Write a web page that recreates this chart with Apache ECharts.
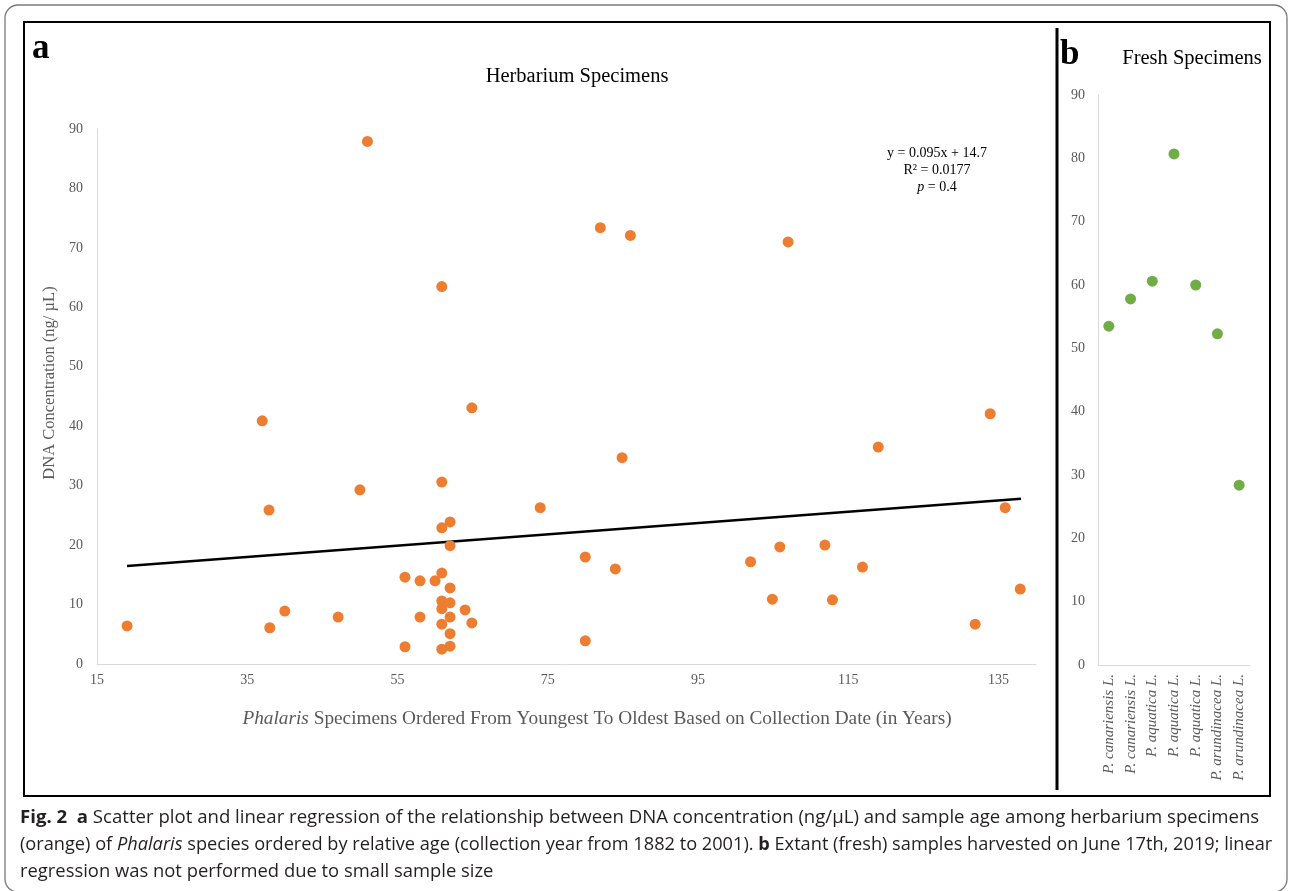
<!DOCTYPE html>
<html>
<head>
<meta charset="utf-8">
<script src="https://cdn.jsdelivr.net/npm/echarts@6/dist/echarts.min.js"></script>
<style>
html,body{margin:0;padding:0;background:#fff;}
#chart{width:1290px;height:891px;}
</style>
</head>
<body>
<div id="chart"></div>
<script>
// Panel a: herbarium specimens (relative age, DNA concentration ng/µL)
var herbX = [19,37,37.9,38,40,47.1,50,51,56,56,58,58,60,60.9,60.9,60.9,60.9,60.9,60.9,60.9,60.9,62,62,62,62,62,62,62,64,64.9,64.9,74,80,80,82,84,84.9,86,102,104.9,105.9,107,111.9,112.9,116.9,119,131.9,133.9,135.9,137.9];
var herbY = [6.4,40.9,25.9,6.1,8.9,7.9,29.3,87.9,14.6,2.9,14.0,7.9,14.0,63.5,30.6,22.9,15.3,10.6,9.3,6.7,2.5,23.9,19.9,12.8,10.3,7.9,5.1,3.0,9.1,43.1,6.9,26.3,18.0,3.9,73.4,16.0,34.7,72.1,17.2,10.9,19.7,71.0,20.0,10.8,16.3,36.5,6.7,42.1,26.3,12.6];
// Trendline endpoints (y = 0.095x + 14.7)
var trendX = [19, 138];
var trendY = [16.5, 27.8];
// Panel b: fresh specimens
var freshCats = ['P. canariensis L.','P. canariensis L.','P. aquatica L.','P. aquatica L.','P. aquatica L.','P. arundinacea L.','P. arundinacea L.'];
var freshY = [53.5,57.8,60.6,80.7,60.0,52.3,28.4];

var serif = 'Liberation Serif';
var grey = '#595959';
var axisCol = '#d9d9d9';

var herbData = herbX.map(function(x,i){return [x, herbY[i]];});
var trendData = trendX.map(function(x,i){return [x, trendY[i]];});

var chart = echarts.init(document.getElementById('chart'), null, {renderer:'canvas'});
function capRich(sz){
  return {
    b:{fontWeight:'bold', fontFamily:'Open Sans', fontSize:sz, fill:'#231f20'},
    i:{fontStyle:'italic', fontFamily:'Open Sans', fontSize:sz, fill:'#231f20'}
  };
}
var option = {
  animation:false,
  backgroundColor:'#fff',
  grid:[
    {left:97, top:129, width:939, height:535},
    {left:1098, top:95, width:152, height:570}
  ],
  xAxis:[
    {gridIndex:0, type:'value', min:15, max:140, interval:20,
     axisLine:{show:true, lineStyle:{color:axisCol, width:1}},
     axisTick:{show:false}, splitLine:{show:false},
     axisLabel:{color:grey, fontFamily:serif, fontSize:14, margin:9, showMaxLabel:false,
       formatter:function(v){return v===140?'':v;}}},
    {gridIndex:1, type:'category', data:freshCats,
     axisLine:{show:true, lineStyle:{color:axisCol, width:1}},
     axisTick:{show:false}, splitLine:{show:false},
     axisLabel:{color:grey, fontFamily:serif, fontSize:15, fontStyle:'italic', rotate:90, margin:9, interval:0}}
  ],
  yAxis:[
    {gridIndex:0, type:'value', min:0, max:90, interval:10,
     axisLine:{show:true, lineStyle:{color:axisCol, width:1}},
     axisTick:{show:false}, splitLine:{show:false},
     axisLabel:{color:grey, fontFamily:serif, fontSize:14, margin:14}},
    {gridIndex:1, type:'value', min:0, max:90, interval:10,
     axisLine:{show:true, lineStyle:{color:axisCol, width:1}},
     axisTick:{show:false}, splitLine:{show:false},
     axisLabel:{color:grey, fontFamily:serif, fontSize:14, margin:13}}
  ],
  series:[
    {type:'line', xAxisIndex:0, yAxisIndex:0, data:trendData, showSymbol:false, symbol:'none',
     lineStyle:{color:'#000', width:2.5}, z:1},
    {type:'scatter', xAxisIndex:0, yAxisIndex:0, data:herbData, symbolSize:11,
     itemStyle:{color:'#ED7D31', opacity:1}, z:3},
    {type:'scatter', xAxisIndex:1, yAxisIndex:1, data:freshY, symbolSize:11,
     itemStyle:{color:'#70AD47', opacity:1}, z:3}
  ],
  graphic:[
    {type:'rect', shape:{x:5, y:5, width:1282, height:887, r:13}, style:{fill:null, stroke:'#7a7a7a', lineWidth:1.3}, silent:true},
    {type:'rect', shape:{x:24, y:22, width:1246, height:774}, style:{fill:null, stroke:'#000', lineWidth:2}, silent:true},
    {type:'line', shape:{x1:1057, y1:28, x2:1057, y2:790}, style:{stroke:'#000', lineWidth:3}, silent:true},
    {type:'text', x:32, y:31, style:{text:'a', font:'bold 35px "Liberation Serif"', fill:'#000'}},
    {type:'text', x:1060, y:37, style:{text:'b', font:'bold 35px "Liberation Serif"', fill:'#000'}},
    {type:'text', x:577, y:77, style:{text:'Herbarium Specimens', font:'20.5px "Liberation Serif"', fill:'#000', align:'center', verticalAlign:'middle'}},
    {type:'text', x:1192, y:59, style:{text:'Fresh Specimens', font:'20.5px "Liberation Serif"', fill:'#000', align:'center', verticalAlign:'middle'}},
    {type:'text', x:50, y:383, rotation:Math.PI/2, style:{text:'DNA Concentration (ng/ µL)', font:'16.5px "Liberation Serif"', fill:grey, align:'center', verticalAlign:'middle'}},
    {type:'text', x:597, y:719, style:{
      text:'{i|Phalaris} Specimens Ordered From Youngest To Oldest Based on Collection Date (in Years)',
      align:'center', verticalAlign:'middle', fill:grey, font:'19.3px "Liberation Serif"',
      rich:{i:{fontStyle:'italic', fontFamily:serif, fontSize:19.3, fill:grey}}}},
    {type:'text', x:937, y:153, style:{text:'y = 0.095x + 14.7', font:'14px "Liberation Serif"', fill:'#000', align:'center', verticalAlign:'middle'}},
    {type:'text', x:937, y:170, style:{text:'R² = 0.0177', font:'14px "Liberation Serif"', fill:'#000', align:'center', verticalAlign:'middle'}},
    {type:'text', x:937, y:187, style:{text:'{i|p} = 0.4', font:'14px "Liberation Serif"', fill:'#000', align:'center', verticalAlign:'middle',
      rich:{i:{fontStyle:'italic', fontFamily:serif, fontSize:14, fill:'#000'}}}},
    {type:'text', x:20, y:818, style:{
      text:'{b|Fig. 2}  {b|a} Scatter plot and linear regression of the relationship between DNA concentration (ng/μL) and sample age among herbarium specimens',
      font:'18.6px "Open Sans"', fill:'#231f20', verticalAlign:'middle', rich:capRich(18.6)}},
    {type:'text', x:20, y:845, style:{
      text:'(orange) of {i|Phalaris} species ordered by relative age (collection year from 1882 to 2001). {b|b} Extant (fresh) samples harvested on June 17th, 2019; linear',
      font:'18.2px "Open Sans"', fill:'#231f20', verticalAlign:'middle', rich:capRich(18.2)}},
    {type:'text', x:20, y:872, style:{
      text:'regression was not performed due to small sample size',
      font:'18.4px "Open Sans"', fill:'#231f20', verticalAlign:'middle'}}
  ]
};
chart.setOption(option);
</script>
</body>
</html>
